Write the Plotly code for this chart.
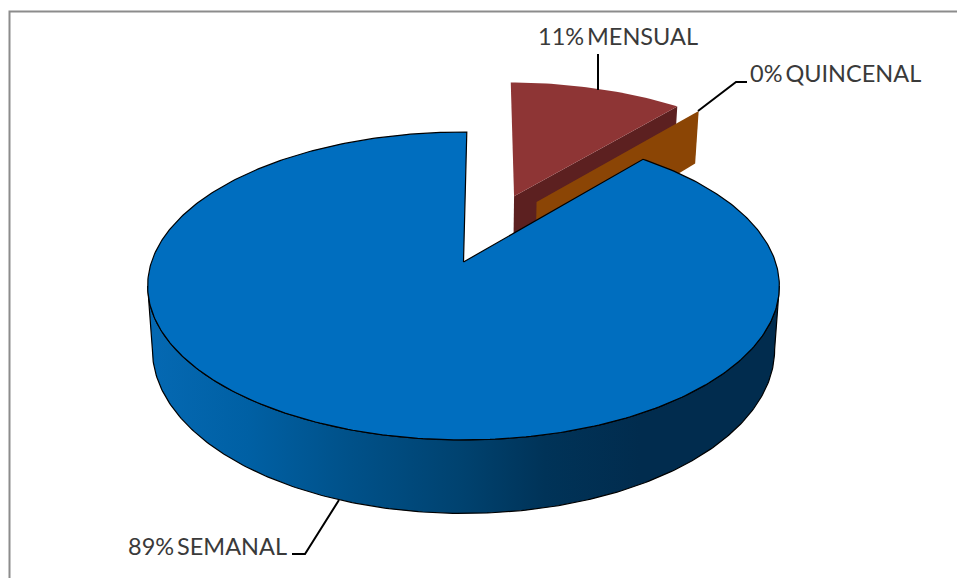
import numpy as np
import plotly.graph_objects as go

# --- data ---
labels = ["MENSUAL", "QUINCENAL", "SEMANAL"]
values = [10.92, 0.02, 89.06]
percent_text = ["11%", "0%", "89%"]

# --- slice colours ---
mensual_top = "#8E3535"
mensual_wall = "#5C2020"
quincenal_wall = "#8B4505"
semanal_top = "#006EBF"
side_stops = [[0.0, "#0569B3"], [0.16, "#0060A4"], [0.31, "#00528B"], [0.50, "#00426F"],
              [0.63, "#003358"], [0.78, "#012C4E"], [1.0, "#012C4E"]]

# --- view geometry of the tilted disc ---
X0, Y0 = 463.5, 262.0
A, B, K = 312.0, 150.25, 0.1558
DEPTH, S = 62.0, 0.985
START = 0.7
EXPLODE_MENSUAL = 0.5
QUINCENAL_OFFSET = (30.4, 0.4935)


def project(u, v, bottom=False):
    u, v = np.asarray(u, float), np.asarray(v, float)
    w = 1 + K * v
    x = A * u / w
    y = Y0 - B * v / w
    if bottom:
        return X0 + S * x, y + DEPTH / w
    return X0 + x, y


def pol(theta, r=1.0, off=(0.0, 0.0)):
    t = np.radians(theta)
    return off[0] + r * np.sin(t), off[1] + r * np.cos(t)


def offset(theta, mag):
    t = np.radians(theta)
    return mag * np.sin(t), mag * np.cos(t)


spans = []
a = START
tot = sum(values)
for val in values:
    spans.append((a, a + 360 * val / tot))
    a = spans[-1][1]
(m0, m1), (q0, q1), (s0, s1) = spans

fig = go.Figure()


def poly(x, y, fill=None, line=None, width=1.0, grad=None):
    kw = dict(x=list(x), y=list(y), mode="lines", fill="toself", hoverinfo="skip",
              showlegend=False,
              line=dict(color=line if line else "rgba(0,0,0,0)", width=width if line else 0))
    if grad:
        kw["fillgradient"] = grad
    else:
        kw["fillcolor"] = fill
    fig.add_trace(go.Scatter(**kw))


# MENSUAL wedge
m_off = offset((m0 + m1) / 2, EXPLODE_MENSUAL)
th = np.linspace(m0, m1, 40)
ue, ve = pol(m1, 1, m_off)
ax0, ay0 = project(*m_off)
ax1, ay1 = project(*m_off, bottom=True)
ex0, ey0 = project(ue, ve)
ex1, ey1 = project(ue, ve, bottom=True)
poly([ax0, ex0, ex1, ax1, ax0], [ay0, ey0, ey1, ay1, ay0], fill=mensual_wall)
tx, ty = project(*pol(th, 1, m_off))
poly(np.r_[ax0, tx, ax0], np.r_[ay0, ty, ay0], fill=mensual_top)

# QUINCENAL wedge: only its wall can be seen
q_off = offset(*QUINCENAL_OFFSET)
ue, ve = pol(q1, 1, q_off)
ax0, ay0 = project(*q_off)
ax1, ay1 = project(*q_off, bottom=True)
ex0, ey0 = project(ue, ve)
ex1, ey1 = project(ue, ve, bottom=True)
poly([ax0, ex0, ex1, ax1, ax0], [ay0, ey0, ey1, ay1, ay0], fill=quincenal_wall)

# SEMANAL wedge: outer wall, then top
th_e = 90 + np.degrees(np.arcsin(K))
th = np.linspace(th_e, 360 - th_e, 240)
t_x, t_y = project(*pol(th))
b_x, b_y = project(*pol(th), bottom=True)
poly(np.r_[t_x, b_x[::-1], t_x[0]], np.r_[t_y, b_y[::-1], t_y[0]], line="#000000", width=1.2,
     grad=dict(type="horizontal", colorscale=side_stops, start=147, stop=779))
th = np.linspace(s0, s1, 400)
tx, ty = project(*pol(th))
ax, ay = project(0, 0)
poly(np.r_[ax, tx, ax], np.r_[ay, ty, ay], fill=semanal_top, line="#000000", width=1.2)

# leader lines and labels
leaders = [([598, 598], [54, 90]),
           ([698, 736, 747], [111, 82, 82]),
           ([339, 305, 292], [500, 554, 554])]
for lx, ly in leaders:
    fig.add_trace(go.Scatter(x=lx, y=ly, mode="lines", hoverinfo="skip", showlegend=False,
                             line=dict(color="#000000", width=2)))

text_pos = [(535.5, 36), (748, 73), (126, 546)]
for (px, py), pct, lab in zip(text_pos, percent_text, labels):
    fig.add_annotation(x=px, y=py, text=f"{pct}\u2009{lab}", showarrow=False, xanchor="left",
                       yanchor="middle", font=dict(family="Lato", size=23.5, color="#3A3A3A"))

# chart frame: only top and left edges fall inside the picture
fig.add_shape(type="path", path="M 9.5 578 L 9.5 11.5 L 957 11.5",
              line=dict(color="#8C8C8C", width=2))

fig.update_layout(width=957, height=578, margin=dict(l=0, r=0, t=0, b=0),
                  paper_bgcolor="#FFFFFF", plot_bgcolor="#FFFFFF", showlegend=False,
                  xaxis=dict(range=[0, 957], visible=False, fixedrange=True),
                  yaxis=dict(range=[578, 0], visible=False, fixedrange=True))
fig.write_html("out.html", config=dict(displayModeBar=False),
               post_script="document.body.style.margin='0';document.body.style.overflow='hidden';")
